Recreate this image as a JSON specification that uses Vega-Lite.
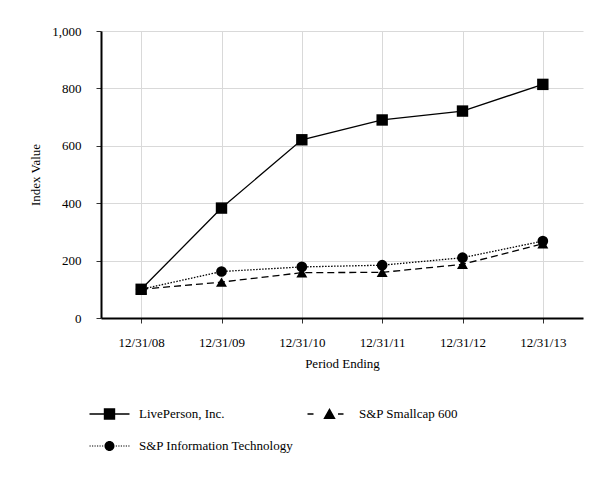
{
  "$schema": "https://vega.github.io/schema/vega-lite/v6.json",
  "width": 482,
  "height": 287,
  "autosize": {"type": "none"},
  "padding": {"left": 101, "top": 31, "right": 30, "bottom": 162},
  "background": "white",
  "data": {
    "values": [
      {"period": "12/31/08", "series": "LivePerson, Inc.", "value": 100},
      {"period": "12/31/09", "series": "LivePerson, Inc.", "value": 383},
      {"period": "12/31/10", "series": "LivePerson, Inc.", "value": 621},
      {"period": "12/31/11", "series": "LivePerson, Inc.", "value": 690},
      {"period": "12/31/12", "series": "LivePerson, Inc.", "value": 721},
      {"period": "12/31/13", "series": "LivePerson, Inc.", "value": 814},
      {"period": "12/31/08", "series": "S&P Smallcap 600", "value": 100},
      {"period": "12/31/09", "series": "S&P Smallcap 600", "value": 125},
      {"period": "12/31/10", "series": "S&P Smallcap 600", "value": 158},
      {"period": "12/31/11", "series": "S&P Smallcap 600", "value": 159},
      {"period": "12/31/12", "series": "S&P Smallcap 600", "value": 187},
      {"period": "12/31/13", "series": "S&P Smallcap 600", "value": 259},
      {"period": "12/31/08", "series": "S&P Information Technology", "value": 100},
      {"period": "12/31/09", "series": "S&P Information Technology", "value": 162},
      {"period": "12/31/10", "series": "S&P Information Technology", "value": 178},
      {"period": "12/31/11", "series": "S&P Information Technology", "value": 184},
      {"period": "12/31/12", "series": "S&P Information Technology", "value": 210},
      {"period": "12/31/13", "series": "S&P Information Technology", "value": 268}
    ]
  },
  "config": {
    "font": "Liberation Serif",
    "view": {"stroke": null},
    "axis": {
      "labelFont": "Liberation Serif",
      "titleFont": "Liberation Serif",
      "labelFontSize": 13,
      "titleFontSize": 13,
      "titleFontWeight": "normal",
      "labelColor": "#000",
      "titleColor": "#000",
      "gridColor": "#d9d9d9",
      "gridWidth": 1,
      "domainColor": "#000",
      "domainWidth": 2,
      "tickColor": "#333",
      "tickWidth": 1,
      "tickSize": 5
    }
  },
  "encoding": {
    "x": {
      "field": "period",
      "type": "ordinal",
      "scale": {"type": "point", "padding": 0.5},
      "axis": {"title": "Period Ending", "labelAngle": 0, "labelPadding": 13, "titlePadding": 8, "grid": true}
    },
    "y": {
      "field": "value",
      "type": "quantitative",
      "scale": {"domain": [0, 1000], "nice": false},
      "axis": {"title": "Index Value", "values": [0, 200, 400, 600, 800, 1000], "format": ",d", "labelPadding": 15, "titlePadding": 9, "grid": true}
    }
  },
  "layer": [
    {
      "transform": [{"filter": "datum.series === 'LivePerson, Inc.'"}],
      "mark": {"type": "line", "color": "black", "strokeWidth": 1.3},
      "encoding": {}
    },
    {
      "transform": [{"filter": "datum.series === 'S&P Smallcap 600'"}],
      "mark": {"type": "line", "color": "black", "strokeWidth": 1.3, "strokeDash": [7, 4]},
      "encoding": {}
    },
    {
      "transform": [{"filter": "datum.series === 'S&P Information Technology'"}],
      "mark": {"type": "line", "color": "black", "strokeWidth": 1.3, "strokeDash": [1.5, 1.5]},
      "encoding": {}
    },
    {
      "transform": [{"filter": "datum.series === 'LivePerson, Inc.'"}],
      "mark": {"type": "point", "filled": true, "color": "black", "opacity": 1, "size": 130, "shape": "square"},
      "encoding": {}
    },
    {
      "transform": [{"filter": "datum.series === 'S&P Smallcap 600'"}],
      "mark": {"type": "point", "filled": true, "color": "black", "opacity": 1, "size": 120, "shape": "triangle-up"},
      "encoding": {}
    },
    {
      "transform": [{"filter": "datum.series === 'S&P Information Technology'"}],
      "mark": {"type": "point", "filled": true, "color": "black", "opacity": 1, "size": 115, "shape": "circle"},
      "encoding": {}
    },
    {
      "mark": {"type": "point", "filled": true, "color": "black", "opacity": 0, "size": 400},
      "encoding": {
        "shape": {
          "field": "series",
          "type": "nominal",
          "scale": {
            "domain": ["LivePerson, Inc.", "S&P Smallcap 600", "S&P Information Technology"],
            "range": [
              "M-2,-0.065H2V0.065H-2ZM-0.57,-0.57H0.57V0.57H-0.57Z",
              "M-2.2,-0.065H-1.6V0.065H-2.2ZM0.85,-0.065H1.4V0.065H0.85ZM0,-0.6L0.62,0.5H-0.62Z",
              "M-2,-0.06H-1.88V0.06H-2ZM-1.75,-0.06H-1.63V0.06H-1.75ZM-1.5,-0.06H-1.38V0.06H-1.5ZM-1.25,-0.06H-1.13V0.06H-1.25ZM-1,-0.06H-0.88V0.06H-1ZM-0.75,-0.06H-0.63V0.06H-0.75ZM0.63,-0.06H0.75V0.06H0.63ZM0.88,-0.06H1V0.06H0.88ZM1.13,-0.06H1.25V0.06H1.13ZM1.38,-0.06H1.5V0.06H1.38ZM1.63,-0.06H1.75V0.06H1.63ZM1.88,-0.06H2V0.06H1.88ZM0.5,0C0.5,0.2761,0.2761,0.5,0,0.5C-0.2761,0.5,-0.5,0.2761,-0.5,0C-0.5,-0.2761,-0.2761,-0.5,0,-0.5C0.2761,-0.5,0.5,-0.2761,0.5,0Z"
            ]
          },
          "legend": {
            "title": null,
            "orient": "none",
            "direction": "horizontal",
            "legendX": -1.5,
            "legendY": 373,
            "columns": 2,
            "columnPadding": 14,
            "rowPadding": 15,
            "padding": 0,
            "symbolSize": 400,
            "symbolFillColor": "black",
            "symbolStrokeWidth": 0,
            "symbolOpacity": 1,
            "labelOffset": 19.5,
            "labelFont": "Liberation Serif",
            "labelFontSize": 13,
            "labelColor": "#000",
            "labelLimit": 400
          }
        }
      }
    }
  ]
}
